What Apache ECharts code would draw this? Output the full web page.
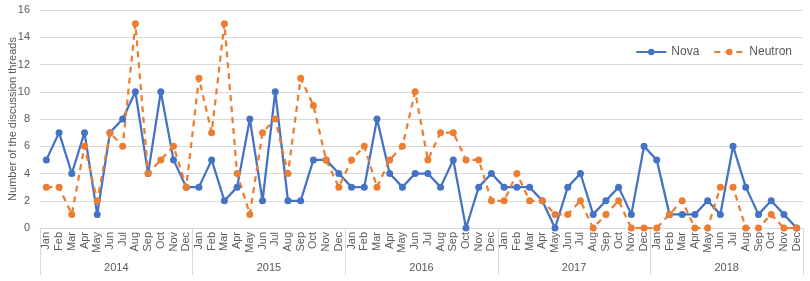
<!DOCTYPE html>
<html>
<head>
<meta charset="utf-8">
<script src="https://cdn.jsdelivr.net/npm/echarts@6/dist/echarts.min.js"></script>
<style>html,body{margin:0;padding:0;background:#fff}#c{width:810px;height:281px}</style>
</head>
<body>
<div id="c"></div>
<script>
var years = ['2014', '2015', '2016', '2017', '2018'];
var monthNames = ['Jan','Feb','Mar','Apr','May','Jun','Jul','Aug','Sep','Oct','Nov','Dec'];
var nova = [
  5,7,4,7,1,7,8,10,4,10,5,3,
  3,5,2,3,8,2,10,2,2,5,5,4,
  3,3,8,4,3,4,4,3,5,0,3,4,
  3,3,3,2,0,3,4,1,2,3,1,6,
  5,1,1,1,2,1,6,3,1,2,1,0
];
var neutron = [
  3,3,1,6,2,7,6,15,4,5,6,3,
  11,7,15,4,1,7,8,4,11,9,5,3,
  5,6,3,5,6,10,5,7,7,5,5,2,
  2,4,2,2,1,1,2,0,1,2,0,0,
  0,1,2,0,0,3,3,0,0,1,0,0
];
var yTicks = [0, 2, 4, 6, 8, 10, 12, 14, 16];

var months = [];
years.forEach(function () { monthNames.forEach(function (m) { months.push(m); }); });

var FONT = 'Liberation Sans, Arial, sans-serif';
var TXT = '#595959';
var GRID = '#d9d9d9';

var chart = echarts.init(document.getElementById('c'), null, {renderer: 'canvas'});
chart.setOption({
  animation: false,
  textStyle: {fontFamily: FONT},
  grid: {left: 40, right: 7, top: 10, bottom: 53, containLabel: false, outerBoundsMode: 'none'},
  legend: {
    top: 41, right: 13,
    itemWidth: 30, itemHeight: 8, itemGap: 14,
    textStyle: {color: TXT, fontSize: 12, fontFamily: FONT},
    data: ['Nova', 'Neutron']
  },
  xAxis: [{
    type: 'category',
    data: months,
    axisLine: {lineStyle: {color: GRID}},
    axisTick: {show: false},
    axisLabel: {rotate: 90, interval: 0, color: TXT, fontSize: 11, margin: 4, fontFamily: FONT}
  }, {
    type: 'category',
    position: 'bottom',
    data: years,
    axisLine: {show: false},
    axisTick: {show: true, length: 47, lineStyle: {color: GRID}},
    axisLabel: {color: TXT, fontSize: 11, margin: 34, fontFamily: FONT}
  }],
  yAxis: {
    type: 'value',
    min: yTicks[0], max: yTicks[yTicks.length - 1], interval: 2,
    name: 'Number of the discussion threads',
    nameLocation: 'middle', nameGap: 22, nameMoveOverlap: false,
    nameTextStyle: {color: TXT, fontSize: 11, fontFamily: FONT},
    axisLine: {show: false},
    axisTick: {show: false},
    axisLabel: {color: TXT, fontSize: 11, margin: 10, fontFamily: FONT},
    splitLine: {lineStyle: {color: GRID, width: 1}}
  },
  series: [{
    name: 'Nova', type: 'line', data: nova,
    symbol: 'circle', symbolSize: 7,
    itemStyle: {color: '#4472C4'},
    lineStyle: {color: '#4472C4', width: 2.25}
  }, {
    name: 'Neutron', type: 'line', data: neutron,
    symbol: 'circle', symbolSize: 7,
    itemStyle: {color: '#ED7D31'},
    lineStyle: {color: '#ED7D31', width: 2.25, type: [6, 5]}
  }]
});
</script>
</body>
</html>
